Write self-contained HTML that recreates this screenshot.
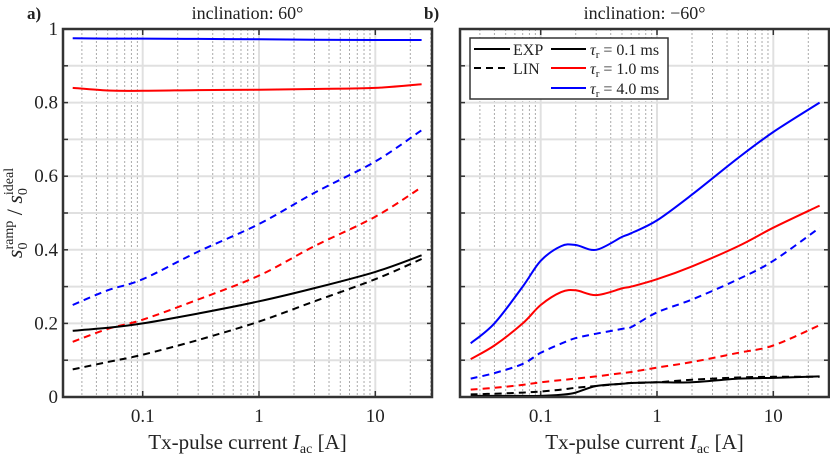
<!DOCTYPE html>
<html><head><meta charset="utf-8"><style>
body{margin:0;background:#fff}
svg text{font-family:"Liberation Serif",serif;fill:#222}
</style></head><body>
<svg id="c" width="830" height="454"></svg>
<script>
const xTicks=[0.1,1,10];
const xTickLabels=["0.1","1","10"];
const yTicks=[0,0.2,0.4,0.6,0.8,1];
const yTickLabels=["0","0.2","0.4","0.6","0.8","1"];
// panel a
const aX=[0.025,0.05,0.1,0.3,1,3,10,25];
const aBlueExp=[0.975,0.974,0.974,0.973,0.972,0.971,0.97,0.97];
const aRedExp=[0.84,0.833,0.832,0.834,0.835,0.837,0.84,0.85];
const aBlackExp=[0.18,0.188,0.2,0.227,0.26,0.296,0.34,0.385];
const aBlueLin=[0.25,0.29,0.32,0.395,0.47,0.555,0.64,0.725];
const aRedLin=[0.15,0.185,0.21,0.265,0.33,0.41,0.49,0.57];
const aBlackLin=[0.075,0.095,0.115,0.155,0.205,0.26,0.32,0.375];
// panel b
const bX=[0.025,0.04,0.07,0.1,0.15,0.2,0.3,0.5,0.6,1,2,5,10,25];
const bBlueExp=[0.146,0.2,0.3,0.37,0.41,0.413,0.4,0.435,0.445,0.48,0.55,0.65,0.72,0.8];
const bRedExp=[0.103,0.14,0.2,0.25,0.285,0.29,0.277,0.295,0.3,0.32,0.355,0.41,0.46,0.52];
const bBlackExp=[0.003,0.003,0.003,0.003,0.006,0.012,0.03,0.036,0.038,0.04,0.04,0.05,0.052,0.056];
const bBlueLin=[0.05,0.065,0.09,0.12,0.145,0.16,0.172,0.185,0.19,0.23,0.265,0.32,0.37,0.46];
const bRedLin=[0.02,0.025,0.033,0.04,0.046,0.05,0.056,0.065,0.068,0.08,0.095,0.12,0.14,0.195];
const bBlackLin=[0.007,0.009,0.012,0.015,0.02,0.025,0.03,0.036,0.038,0.04,0.047,0.053,0.055,0.055];

const NS="http://www.w3.org/2000/svg";
const svg=document.getElementById('c');
function el(t,a,p){const e=document.createElementNS(NS,t);for(const k in a)e.setAttribute(k,a[k]);(p||svg).appendChild(e);return e;}
function smooth(p){let d='M'+p[0][0].toFixed(1)+','+p[0][1].toFixed(1);
 for(let i=0;i<p.length-1;i++){const p0=p[i-1]||p[i],p1=p[i],p2=p[i+1],p3=p[i+2]||p2;
  const c1=[p1[0]+(p2[0]-p0[0])/6,p1[1]+(p2[1]-p0[1])/6],c2=[p2[0]-(p3[0]-p1[0])/6,p2[1]-(p3[1]-p1[1])/6];
  d+=' C'+c1.map(v=>v.toFixed(1)).join(',')+' '+c2.map(v=>v.toFixed(1)).join(',')+' '+p2[0].toFixed(1)+','+p2[1].toFixed(1);}
 return d;}
const panels=[
 {x0:63,x1:432,one:259,name:'a',title:'inclination:  60°',series:[[aX,aBlackLin,'#000',1],[aX,aRedLin,'#f00',1],[aX,aBlueLin,'#00f',1],[aX,aBlackExp,'#000',0],[aX,aRedExp,'#f00',0],[aX,aBlueExp,'#00f',0]]},
 {x0:460,x1:829,one:657,name:'b',title:'inclination:  −60°',series:[[bX,bBlackLin,'#000',1],[bX,bRedLin,'#f00',1],[bX,bBlueLin,'#00f',1],[bX,bBlackExp,'#000',0],[bX,bRedExp,'#f00',0],[bX,bBlueExp,'#00f',0]]}
];
const Y0=397,Y1=29,DEC=116.3;
const yS=v=>Y0+(Y1-Y0)*v;
panels.forEach(P=>{
 const xS=v=>P.one+DEC*Math.log10(v);
 const g=el('g',{});
 
 
 for(let d=-2;d<=1;d++)for(let m=2;m<=9;m++){const x=xS(m*Math.pow(10,d));if(x>P.x0&&x<P.x1)el('line',{x1:x,x2:x,y1:Y1,y2:Y0,stroke:'#aaa','stroke-width':1,'stroke-dasharray':'2,2'},g);}
 for(let i=1;i<10;i++){const y=yS(i/10);el('line',{x1:P.x0,x2:P.x1,y1:y,y2:y,stroke:'#e0e0e0','stroke-width':2},g);el('line',{x1:P.x0,x2:P.x0+5,y1:y,y2:y,stroke:'#333','stroke-width':1.5},g);el('line',{x1:P.x1,x2:P.x1-5,y1:y,y2:y,stroke:'#333','stroke-width':1.5},g);}
 xTicks.forEach((t,i)=>{const x=xS(t);el('line',{x1:x,x2:x,y1:Y1,y2:Y0,stroke:'#e0e0e0','stroke-width':2},g);
  el('line',{x1:x,x2:x,y1:Y0,y2:Y0-6,stroke:'#333','stroke-width':1.5},g);el('line',{x1:x,x2:x,y1:Y1,y2:Y1+6,stroke:'#333','stroke-width':1.5},g);
  const tx=el('text',{x:x,y:422,'text-anchor':'middle','font-size':19},g);tx.textContent=xTickLabels[i];});
 if(P.name==='a')yTicks.forEach((t,i)=>{const tx=el('text',{x:58,y:yS(t)+6,'text-anchor':'end','font-size':19},g);tx.textContent=yTickLabels[i];});
 P.series.forEach((s,k)=>{const pts=s[0].map((v,i)=>[xS(v),yS(s[1][i])]);
  const pl=el('path',{d:smooth(pts),fill:'none',stroke:s[2],'stroke-width':2,'stroke-dasharray':s[3]?'7,5':'none'},g);
  
  });
 el('rect',{x:P.x0,y:Y1,width:P.x1-P.x0,height:Y0-Y1,fill:'none',stroke:'#333','stroke-width':2.5},g);
 const ti=el('text',{x:(P.x0+P.x1)/2,y:19,'text-anchor':'middle','font-size':18},g);ti.textContent=P.title;
 const lb=el('text',{x:P.x0-36,y:19,'font-size':17,'font-weight':'bold'},g);lb.textContent=P.name+')';
 const xl=el('text',{x:(P.x0+P.x1)/2,y:449,'text-anchor':'middle','font-size':21},g);
 xl.innerHTML='Tx-pulse current <tspan font-style="italic">I</tspan><tspan font-size="14" dy="4">ac</tspan><tspan dy="-4"> [A]</tspan>';
 
 
});
const yl=el('text',{transform:'translate(22,213) rotate(-90)','text-anchor':'middle','font-size':22});
yl.innerHTML='<tspan font-style="italic">s</tspan><tspan font-size="14" dy="5">0</tspan><tspan font-size="14" dy="-14" dx="-7">ramp</tspan><tspan dy="9"> / </tspan><tspan font-style="italic">s</tspan><tspan font-size="14" dy="5">0</tspan><tspan font-size="14" dy="-14" dx="-7">ideal</tspan>';


const lg=el('g',{});


el('rect',{x:470,y:38,width:198,height:61,fill:'#fff',stroke:'#333','stroke-width':1.5},lg);
const rows=[[49,'#000','0.1'],[68,'#f00','1.0'],[88,'#00f','4.0']];
el('line',{x1:474,x2:510,y1:49,y2:49,stroke:'#000','stroke-width':2},lg);
el('line',{x1:474,x2:510,y1:68,y2:68,stroke:'#000','stroke-width':2,'stroke-dasharray':'7,5'},lg);
let t=el('text',{x:513,y:55,'font-size':16},lg);t.textContent='EXP';
t=el('text',{x:513,y:74,'font-size':16},lg);t.textContent='LIN';
rows.forEach(r=>{el('line',{x1:551,x2:586,y1:r[0],y2:r[0],stroke:r[1],'stroke-width':2},lg);
 const tt=el('text',{x:590,y:r[0]+6,'font-size':16},lg);
 tt.innerHTML='<tspan font-style="italic">τ</tspan><tspan font-size="11" dy="3">r</tspan><tspan dy="-3"> = '+r[2]+' ms</tspan>';
 
 });
</script>
</body></html>
